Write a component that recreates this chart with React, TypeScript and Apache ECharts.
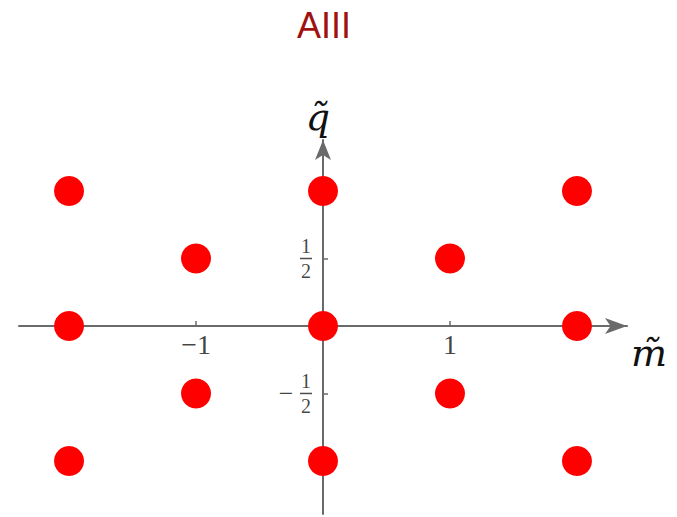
import React, { useEffect, useRef } from "react";
import * as echarts from "echarts";

// Lattice of (m̃, q̃) charge points
const mTilde = [-2, 0, 2, -1, 1, -2, 0, 2, -1, 1, -2, 0, 2];
const qTilde = [1, 1, 1, 0.5, 0.5, 0, 0, 0, -0.5, -0.5, -1, -1, -1];

// Tick positions on the two axes (the labels sit next to the crossing axes)
const xTicks = [-1, 1];
const yTicks = [-0.5, 0.5];

const titleText = "AIII";
const xName = "m\u0303";
const yName = "q\u0303";

const SERIF = "'Liberation Serif', 'DejaVu Serif', serif";
const NAME_FONT = "'DejaVu Serif', 'Liberation Serif', serif";
const AXIS_COLOR = "#6a6a6a";
const TEXT_COLOR = "#111";

export default function App() {
  const ref = useRef<HTMLDivElement>(null);

  useEffect(() => {
    if (!ref.current) return;
    const chart = echarts.init(ref.current, null, { renderer: "svg" });

    const points = mTilde.map((m, i) => [m, qTilde[i]]);
    const xTickPoints = xTicks.map((v) => [v, 0]);
    const yTickPoints = yTicks.map((v) => [0, v]);

    chart.setOption({
      animation: false,
      backgroundColor: "#ffffff",
      title: {
        text: titleText,
        left: 292,
        top: 2,
        textStyle: {
          fontFamily: "'Liberation Sans', Arial, sans-serif",
          fontWeight: "normal",
          fontSize: 36,
          color: "#a01212",
        },
      },
      graphic: [
        {
          type: "text",
          left: 631,
          top: 334,
          style: {
            text: xName,
            font: `italic 38px ${NAME_FONT}`,
            fill: TEXT_COLOR,
          },
        },
      ],
      grid: { left: 19, right: 50, top: 140, bottom: 3, outerBoundsMode: "none", containLabel: false },
      xAxis: {
        type: "value",
        min: -2.394,
        max: 2.394,
        splitLine: { show: false },
        axisLine: {
          onZero: true,
          symbol: ["none", "arrow"],
          symbolSize: [12, 22],
          lineStyle: { color: AXIS_COLOR, width: 2 },
        },
        axisTick: {
          inside: true,
          length: 5,
          customValues: xTicks,
          lineStyle: { color: AXIS_COLOR, width: 1.5 },
        },
        axisLabel: { show: false },
      },
      yAxis: {
        type: "value",
        min: -1.393,
        max: 1.378,
        name: yName,
        nameLocation: "end",
        nameGap: 4,
        nameTextStyle: {
          fontFamily: NAME_FONT,
          fontStyle: "italic",
          fontSize: 38,
          color: TEXT_COLOR,
          padding: [0, 10, 0, 0],
        },
        splitLine: { show: false },
        axisLine: {
          onZero: true,
          symbol: ["none", "arrow"],
          symbolSize: [12, 20],
          lineStyle: { color: AXIS_COLOR, width: 2 },
        },
        axisTick: {
          inside: true,
          length: 5,
          customValues: yTicks,
          lineStyle: { color: AXIS_COLOR, width: 1.5 },
        },
        axisLabel: { show: false },
      },
      series: [
        {
          type: "scatter",
          data: points,
          symbol: "circle",
          symbolSize: 30,
          itemStyle: { color: "#ff0000", opacity: 1 },
          z: 5,
        },
        {
          // tick labels of the horizontal axis
          type: "scatter",
          data: xTickPoints,
          symbolSize: 0,
          silent: true,
          z: 4,
          label: {
            show: true,
            position: "bottom",
            distance: 5,
            fontFamily: SERIF,
            fontSize: 28,
            color: TEXT_COLOR,
            formatter: (p: any) =>
              p.value[0] < 0 ? "\u2212" + Math.abs(p.value[0]) : String(p.value[0]),
          },
        },
        {
          // fraction tick labels of the vertical axis
          type: "scatter",
          data: yTickPoints,
          symbolSize: 0,
          silent: true,
          z: 4,
          label: {
            show: true,
            position: "left",
            distance: 11,
            color: TEXT_COLOR,
            formatter: (p: any) =>
              p.value[1] < 0
                ? "{sp| }{n|1}\n{m|\u2212}{b| }\n{sp| }{n|2}"
                : "{n|1}\n{b| }\n{n|2}",
            rich: {
              n: {
                fontFamily: SERIF,
                fontSize: 20,
                lineHeight: 19,
                width: 12,
                align: "center",
                color: TEXT_COLOR,
              },
              b: {
                width: 12,
                height: 1.5,
                lineHeight: 6,
                backgroundColor: "#222",
                align: "center",
              },
              m: {
                fontFamily: SERIF,
                fontSize: 26,
                lineHeight: 6,
                width: 28,
                align: "center",
                color: TEXT_COLOR,
              },
              sp: { width: 28, align: "center" },
            },
          },
        },
      ],
    });

    return () => chart.dispose();
  }, []);

  return (
    <div
      ref={ref}
      style={{ position: "fixed", left: 0, top: 0, width: 677, height: 517, background: "#fff" }}
    />
  );
}
